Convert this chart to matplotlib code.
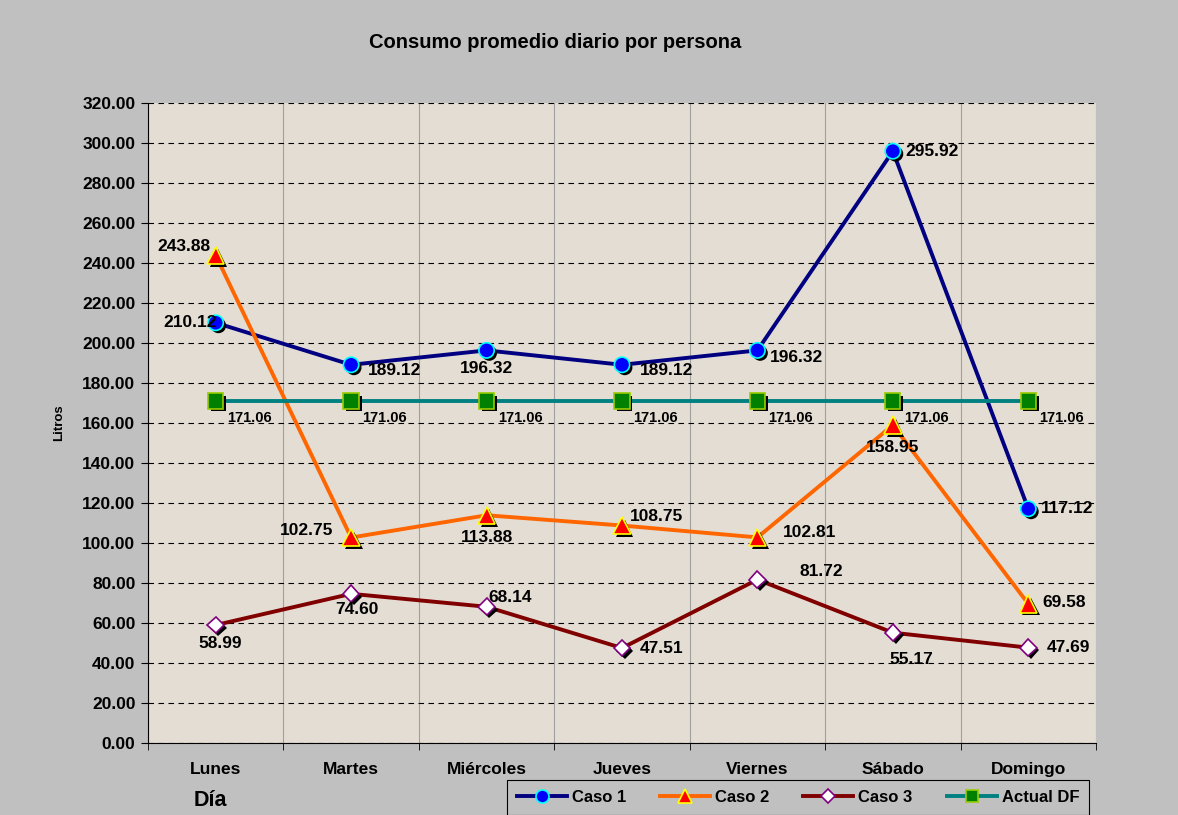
import matplotlib.pyplot as plt
import matplotlib.patheffects as pe
import numpy as np

plt.rcParams['font.family'] = ['Liberation Sans', 'DejaVu Sans']
plt.rcParams['font.weight'] = 'bold'

dias = ['Lunes', 'Martes', 'Miércoles', 'Jueves', 'Viernes', 'Sábado', 'Domingo']
caso1 = [210.12, 189.12, 196.32, 189.12, 196.32, 295.92, 117.12]
caso2 = [243.88, 102.75, 113.88, 108.75, 102.81, 158.95, 69.58]
caso3 = [58.99, 74.60, 68.14, 47.51, 81.72, 55.17, 47.69]
actual_df = [171.06] * 7

# label offsets in points (dx, dy, ha)
off1 = [(1, 0, 'right'), (12, -4, 'left'), (0, -13, 'center'), (13, -4, 'left'),
        (9, -5, 'left'), (9, 0, 'left'), (9, 0, 'left')]
off2 = [(-4, 6, 'right'), (-13, 5, 'right'), (0, -16, 'center'), (6, 6.5, 'left'),
        (18, 3.5, 'left'), (0, -16, 'center'), (10, 1, 'left')]
off3 = [(3, -13, 'center'), (4, -11, 'center'), (1.5, 7, 'left'), (13, 0, 'left'),
        (30, 6, 'left'), (13, -19, 'center'), (13, 0, 'left')]
offdf = [(8, -12, 'left')] * 7

series = [
    ('Caso 1', caso1, '#000080', 'o', '#0000FF', '#00FFFF', 11, off1, 12.5),
    ('Caso 2', caso2, '#FF6600', '^', '#FF0000', '#FFFF00', 12.5, off2, 12.5),
    ('Caso 3', caso3, '#800000', 'D', '#FFFFFF', '#800080', 8.5, off3, 12.5),
    ('Actual DF', actual_df, '#008080', 's', '#008000', '#99CC00', 11, offdf, 10.5),
]

fig = plt.figure(figsize=(11.78, 8.15), dpi=100)
fig.patch.set_facecolor('#C0C0C0')
ax = fig.add_axes([0.1256, 0.0883, 0.8048, 0.7853])
ax.set_facecolor('#E4DDD3')

x = np.arange(len(dias))
shadow = [pe.SimplePatchShadow(offset=(2, -2), shadow_rgbFace='black', alpha=1.0), pe.Normal()]
handles = []
for name, vals, lc, mk, fc, ec, ms, offs, fs in series:
    ax.plot(x, vals, color=lc, lw=2.8, zorder=3)
    ax.plot(x, vals, ls='none', marker=mk, ms=ms, mfc=fc, mec=ec, mew=1.2,
            zorder=4, path_effects=shadow)
    h, = ax.plot([], [], color=lc, lw=2.8, marker=mk, ms=ms * 0.85, mfc=fc, mec=ec, mew=1.2)
    handles.append(h)
    for xi, v, (dx, dy, ha) in zip(x, vals, offs):
        ax.annotate(f'{v:.2f}', (xi, v), xytext=(dx, dy), textcoords='offset points',
                    ha=ha, va='center', fontsize=fs, fontweight='bold', zorder=5)

ax.set_xlim(-0.5, 6.5)
ax.set_ylim(0, 320)
ax.set_yticks(np.arange(0, 321, 20))
ax.set_yticklabels([f'{v:.2f}' for v in np.arange(0, 321, 20)], fontsize=12.5, fontweight='bold')
ax.set_xticks(x)
ax.set_xticklabels(dias, fontsize=12.5, fontweight='bold')
ax.tick_params(axis='x', which='major', length=0, pad=14)
ax.set_xticks(np.arange(-0.5, 7, 1), minor=True)
ax.tick_params(axis='x', which='minor', length=5, color='black')
ax.tick_params(axis='y', length=5, color='black', pad=4)
ax.grid(axis='y', which='major', color='black', ls=(0, (5, 4)), lw=0.8)
ax.grid(axis='x', which='minor', color='#A0A0A0', ls='-', lw=0.8)
ax.set_axisbelow(True)
for s in ['top', 'right']:
    ax.spines[s].set_visible(False)
ax.spines['left'].set_color('black')
ax.spines['bottom'].set_color('black')

ax.set_ylabel('Litros', fontsize=9.5, fontweight='bold', labelpad=12)
fig.text(0.471, 0.948, 'Consumo promedio diario por persona', ha='center', va='center',
         fontsize=14.5, fontweight='bold')
fig.text(0.164, 0.018, 'Día', ha='left', va='center', fontsize=15.5, fontweight='bold')

leg = fig.legend(handles, ['Caso 1', 'Caso 2', 'Caso 3', 'Actual DF'], ncol=4,
                 loc='upper left', bbox_to_anchor=(0.430, 0.043), frameon=True,
                 fancybox=False, edgecolor='black', facecolor='#C0C0C0', framealpha=1,
                 fontsize=12, handlelength=3, handletextpad=0.3, columnspacing=2.05,
                 borderpad=0.6, borderaxespad=0)
leg.get_frame().set_linewidth(0.8)

fig.savefig('out.png', dpi=100, facecolor=fig.get_facecolor())
